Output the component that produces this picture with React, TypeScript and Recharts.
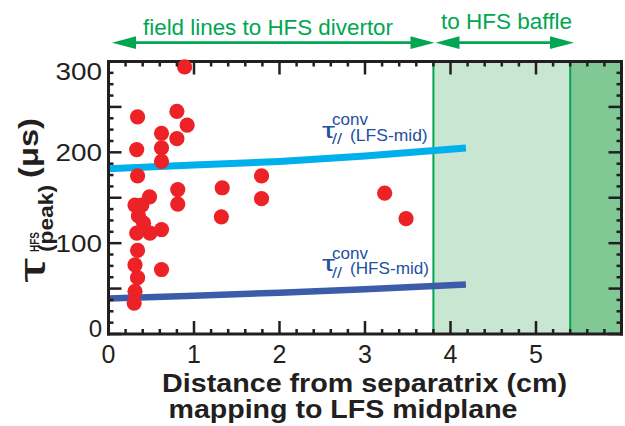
import React from 'react';
import { ComposedChart, XAxis, YAxis, Scatter, Line, ReferenceArea, ReferenceLine } from 'recharts';

// ---- data ----
const pointX = [0.89, 0.34, 0.80, 0.92, 0.62, 0.80, 0.33, 0.62, 0.62, 0.34, 0.81, 0.81, 0.48, 0.31, 0.39, 0.35, 0.41, 0.33, 0.485, 0.62, 0.34, 0.31, 0.34, 0.31, 0.30, 0.62, 1.33, 1.32, 1.79, 1.79, 3.23, 3.48];
const pointY = [294, 239, 245, 230, 221, 215, 203, 205, 190, 174, 159, 143, 151, 142, 142, 130, 122, 111, 111, 115, 92, 76, 62, 47, 34, 71, 161, 129, 174, 149, 155, 127];

const lfsX = [0, 1, 2, 3, 4.18];
const lfsY = [182, 186, 190, 196, 204.7];
const hfsX = [0, 1, 2, 3, 4.18];
const hfsY = [39, 42, 45.5, 49.3, 54.6];

const xTickLabels = [0, 1, 2, 3, 4, 5];
const yTickLabels = [0, 100, 200, 300];
const xDomain: [number, number] = [0, 6];
const yDomain: [number, number] = [0, 300];
const divertorEdge = 3.8;
const baffleEdge = 5.4;
const xMinorStep = 0.2;
const yMinorStep = 12.5;
const yMidStep = 50;

const points = pointX.map((x, i) => ({ x, y: pointY[i] }));
const lfs = lfsX.map((x, i) => ({ x, y: lfsY[i] }));
const hfs = hfsX.map((x, i) => ({ x, y: hfsY[i] }));

const xTicks = Array.from({ length: Math.round((xDomain[1] - xDomain[0]) / xMinorStep) + 1 }, (_, i) => +(xDomain[0] + i * xMinorStep).toFixed(3));
const yTicks = Array.from({ length: Math.round((yDomain[1] - yDomain[0]) / yMinorStep) + 1 }, (_, i) => +(yDomain[0] + i * yMinorStep).toFixed(3));

// ---- layout ----
const W = 625;
const H = 426;
const PLOT = { left: 108.5, right: 621.5, top: 61.5, bottom: 334 };
const AXIS_W = 60; // default YAxis width
const AXIS_H = 30; // default XAxis height
const CHART_W = PLOT.right + AXIS_W;

// ---- styles ----
const AXIS = '#231f20';
const FONT = '"Liberation Sans", Arial, Helvetica, sans-serif';
const GREEN = '#00a651';
const LIGHT_GREEN = '#c8e6d1';
const DARK_GREEN = '#80c995';
const RED = '#ec2227';
const LFS_COLOR = '#00b0ec';
const HFS_COLOR = '#3c5ba9';
const LABEL_BLUE = '#23509f';
const TICK_W = 2.5;

const isMult = (v: number, step: number) => Math.abs(v / step - Math.round(v / step)) < 1e-6;
const axisLineStyle = { stroke: AXIS, strokeWidth: 3, strokeLinecap: 'square' as const };

const renderBottomLabel = (p: any) => {
  const v = Number(p.payload.value);
  if (!(isMult(v, 1) && xTickLabels.includes(Math.round(v)))) return <g />;
  return (
    <text x={p.x} y={Number(p.y) + 29} textAnchor="middle" fontSize={25} fontFamily={FONT} fill={AXIS}>
      {Math.round(v)}
    </text>
  );
};

const renderLeftLabel = (p: any) => {
  const v = Number(p.payload.value);
  if (!yTickLabels.includes(v)) return <g />;
  const label = String(v);
  const dy = v === yDomain[1] ? 18.5 : v === yDomain[0] ? 3 : 8.5;
  return (
    <text
      x={Number(p.x) - 6.5}
      y={Number(p.y) + dy}
      textAnchor="end"
      fontSize={24}
      fontFamily={FONT}
      fill={AXIS}
      {...(label.length > 1 ? { textLength: label.length * 15.5, lengthAdjust: 'spacingAndGlyphs' } : {})}
    >
      {label}
    </text>
  );
};

const emptyTick = () => <g />;

// inward tick marks on all four sides of the frame (axis decoration), drawn as filled bars
const xPx = (v: number) => PLOT.left + ((v - xDomain[0]) / (xDomain[1] - xDomain[0])) * (PLOT.right - PLOT.left);
const yPx = (v: number) => PLOT.bottom - ((v - yDomain[0]) / (yDomain[1] - yDomain[0])) * (PLOT.bottom - PLOT.top);

function FrameTicks() {
  return (
    <g fill={AXIS}>
      {xTicks.map((v) => {
        const x = xPx(v) - TICK_W / 2;
        const len = isMult(v, 1) ? 13 : 5;
        return (
          <g key={`x${v}`}>
            <rect x={x} y={PLOT.bottom - len} width={TICK_W} height={len} />
            <rect x={x} y={PLOT.top} width={TICK_W} height={len} />
          </g>
        );
      })}
      {yTicks.map((v) => {
        const y = yPx(v) - TICK_W / 2;
        const len = isMult(v, yMidStep) ? 13 : 5;
        return (
          <g key={`y${v}`}>
            <rect x={PLOT.left} y={y} width={len} height={TICK_W} />
            <rect x={PLOT.right - len} y={y} width={len} height={TICK_W} />
          </g>
        );
      })}
    </g>
  );
}

function RedDot(props: any) {
  const { cx, cy } = props;
  if (cx == null || cy == null) return null;
  return <circle cx={cx} cy={cy} r={7.6} fill={RED} />;
}

function TauLabel({ x, y, name, nameLen }: { x: number; y: number; name: string; nameLen: number }) {
  return (
    <g fill={LABEL_BLUE} fontFamily={FONT}>
      <text x={x} y={y} fontSize={22} textLength={13} lengthAdjust="spacingAndGlyphs">τ</text>
      <text x={x + 10} y={y + 6.5} fontSize={14} textLength={10} lengthAdjust="spacingAndGlyphs">//</text>
      <text x={x + 10} y={y - 12.5} fontSize={17} textLength={36} lengthAdjust="spacingAndGlyphs">conv</text>
      <text x={x + 28} y={y + 3} fontSize={17} textLength={nameLen} lengthAdjust="spacingAndGlyphs">{name}</text>
    </g>
  );
}

function Arrow({ x1, x2, y }: { x1: number; x2: number; y: number }) {
  const hl = 24;
  const hh = 6.4;
  return (
    <g fill={GREEN}>
      <line x1={x1 + hl - 2} x2={x2 - hl + 2} y1={y} y2={y} stroke={GREEN} strokeWidth={2.7} />
      <polygon points={`${x1},${y} ${x1 + hl},${y - hh} ${x1 + hl},${y + hh}`} />
      <polygon points={`${x2},${y} ${x2 - hl},${y - hh} ${x2 - hl},${y + hh}`} />
    </g>
  );
}

export default function App() {
  return (
    <div style={{ position: 'absolute', left: 0, top: 0, width: W, height: H, background: '#fff', overflow: 'hidden' }}>
      <ComposedChart
        width={CHART_W}
        height={H}
        margin={{ top: PLOT.top - AXIS_H, right: 0, bottom: H - PLOT.bottom - AXIS_H, left: PLOT.left - AXIS_W }}
      >
        <ReferenceArea xAxisId="b" yAxisId="l" x1={divertorEdge} x2={baffleEdge} y1={yDomain[0]} y2={yDomain[1]} fill={LIGHT_GREEN} fillOpacity={1} stroke="none" />
        <ReferenceArea xAxisId="b" yAxisId="l" x1={baffleEdge} x2={xDomain[1]} y1={yDomain[0]} y2={yDomain[1]} fill={DARK_GREEN} fillOpacity={1} stroke="none" />
        <ReferenceLine xAxisId="b" yAxisId="l" x={divertorEdge} stroke={GREEN} strokeWidth={2} />
        <ReferenceLine xAxisId="b" yAxisId="l" x={baffleEdge} stroke={GREEN} strokeWidth={2} />

        <XAxis xAxisId="b" orientation="bottom" type="number" dataKey="x" domain={xDomain} ticks={xTicks} interval={0} tickSize={0} tickMargin={0} tick={renderBottomLabel} axisLine={axisLineStyle} />
        <XAxis xAxisId="t" orientation="top" type="number" dataKey="x" domain={xDomain} ticks={xTicks} interval={0} tickSize={0} tickMargin={0} tick={emptyTick} axisLine={axisLineStyle} />
        <YAxis yAxisId="l" orientation="left" type="number" dataKey="y" domain={yDomain} ticks={yTicks} interval={0} tickSize={0} tickMargin={0} tick={renderLeftLabel} axisLine={axisLineStyle} />
        <YAxis yAxisId="r" orientation="right" type="number" dataKey="y" domain={yDomain} ticks={yTicks} interval={0} tickSize={0} tickMargin={0} tick={emptyTick} axisLine={axisLineStyle} />

        <Line xAxisId="b" yAxisId="l" data={lfs} dataKey="y" type="linear" stroke={LFS_COLOR} strokeWidth={7} dot={false} activeDot={false} isAnimationActive={false} />
        <Line xAxisId="b" yAxisId="l" data={hfs} dataKey="y" type="linear" stroke={HFS_COLOR} strokeWidth={6.5} dot={false} activeDot={false} isAnimationActive={false} />
        <Scatter xAxisId="b" yAxisId="l" data={points} dataKey="y" shape={<RedDot />} isAnimationActive={false} />
        <Scatter xAxisId="t" yAxisId="r" data={points} dataKey="y" shape={<g />} isAnimationActive={false} />
      </ComposedChart>

      <svg width={W} height={H} style={{ position: 'absolute', left: 0, top: 0, pointerEvents: 'none' }}>
        <FrameTicks />

        <text x={143} y={35} fontSize={22} fontFamily={FONT} fill={GREEN} textLength={250} lengthAdjust="spacingAndGlyphs">field lines to HFS divertor</text>
        <text x={441} y={28.5} fontSize={22} fontFamily={FONT} fill={GREEN} textLength={131} lengthAdjust="spacingAndGlyphs">to HFS baffle</text>
        <Arrow x1={112} x2={434.5} y={42.7} />
        <Arrow x1={435.5} x2={574} y={42.7} />

        <TauLabel x={322} y={137.5} name="(LFS-mid)" nameLen={77.7} />
        <TauLabel x={322} y={271} name="(HFS-mid)" nameLen={79} />

        <text x={162} y={392} fontSize={25} fontWeight="bold" fontFamily={FONT} fill={AXIS} textLength={405} lengthAdjust="spacingAndGlyphs">Distance from separatrix (cm)</text>
        <text x={168.5} y={418} fontSize={25} fontWeight="bold" fontFamily={FONT} fill={AXIS} textLength={349} lengthAdjust="spacingAndGlyphs">mapping to LFS midplane</text>

        <g transform="rotate(-90)" fontFamily={FONT} fill={AXIS}>
          <text x={-283} y={45} fontSize={36} textLength={25} lengthAdjust="spacingAndGlyphs">τ</text>
          <text x={-252} y={39} fontSize={12} fontWeight="bold" textLength={20} lengthAdjust="spacingAndGlyphs">HFS</text>
          <text x={-252} y={53} fontSize={20} fontWeight="bold" textLength={67} lengthAdjust="spacingAndGlyphs">(peak)</text>
          <text x={-178} y={37.5} fontSize={28} fontWeight="bold" textLength={60} lengthAdjust="spacingAndGlyphs">(μs)</text>
        </g>
      </svg>
    </div>
  );
}
